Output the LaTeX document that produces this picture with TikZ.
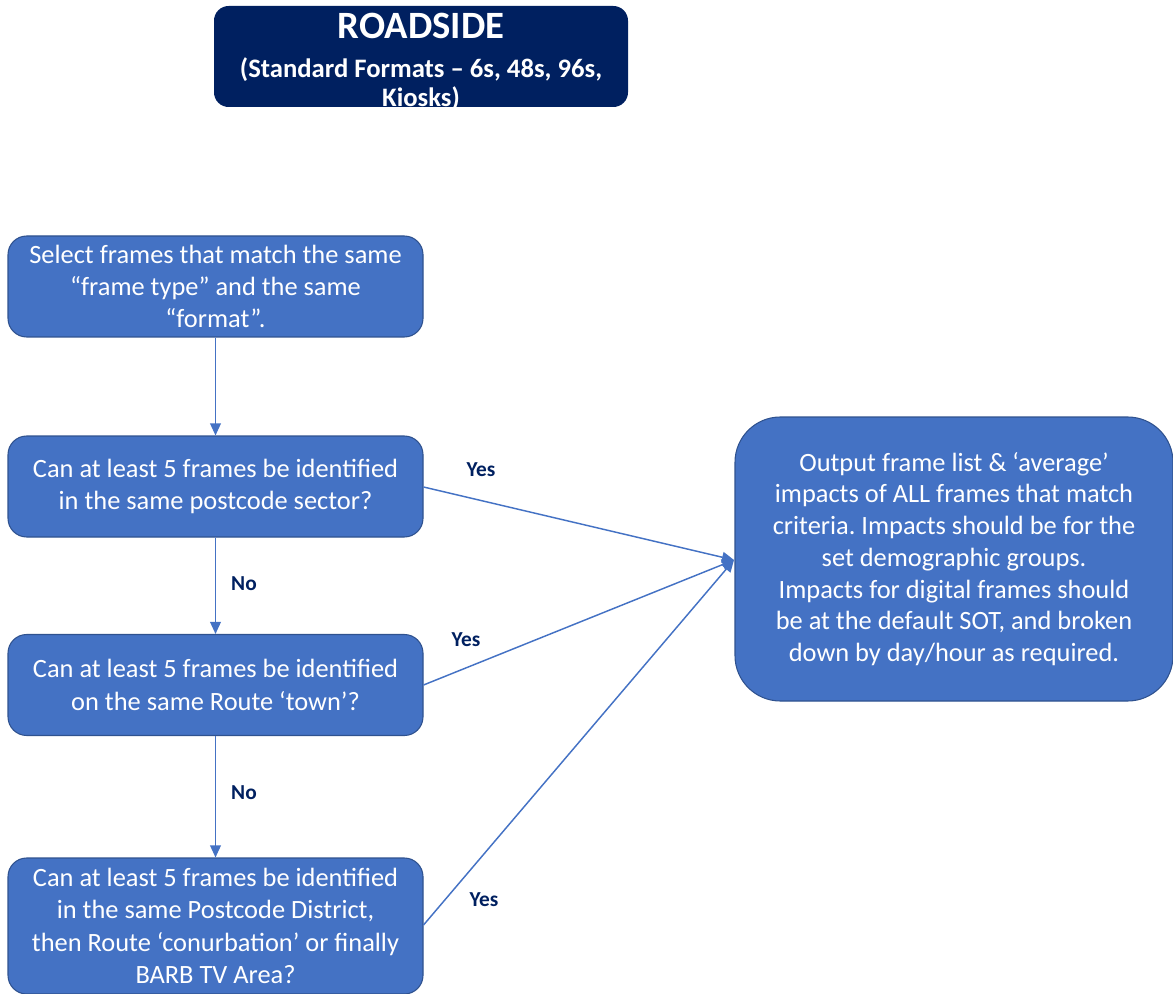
\documentclass[tikz,border=0pt]{standalone}
\usepackage{fontspec}
\setmainfont{Carlito}
\usetikzlibrary{arrows.meta}
\frenchspacing
\definecolor{navy}{HTML}{002060}
\definecolor{boxblue}{HTML}{4472C4}
\definecolor{boxedge}{HTML}{2F528F}
\tikzset{
  stepbox/.style={draw=boxedge, line width=0.8pt, fill=boxblue, rounded corners=14pt, text=white,
    minimum width=415*0.75pt, minimum height=101*0.75pt, align=center, inner sep=0pt,
    font=\fontsize{19.8}{24.2}\selectfont},
  outbox/.style={draw=boxedge, line width=0.8pt, fill=boxblue, rounded corners=34pt, text=white,
    minimum width=438*0.75pt, minimum height=284*0.75pt, align=center, inner sep=0pt,
    font=\fontsize{19.8}{23.8}\selectfont},
  titlebox/.style={fill=navy, rounded corners=11pt, minimum width=414*0.75pt, minimum height=101*0.75pt, inner sep=0pt},
  titletext/.style={text=white, align=center, inner sep=0pt, font=\bfseries\fontsize{20}{22}\selectfont},
  conn/.style={draw=boxblue, line width=1.1pt, -{Triangle[length=9pt,width=8pt]}},
  lbl/.style={text=navy, font=\bfseries\fontsize{16}{18}\selectfont, inner sep=0pt}
}
\begin{document}
\begin{tikzpicture}[x=0.75pt,y=-0.75pt]
\useasboundingbox (0,0) rectangle (1173,994);
\node[titlebox] (title) at (421,56.5) {};
\node[titletext] (titlet) at (421,62) {{\fontsize{29}{30}\selectfont ROADSIDE}\\[7pt] (Standard Formats – 6s, 48s, 96s,\\ Kiosks)};
\node[stepbox] (b1) at (215.5,286.5) {Select frames that match the same\\ “frame type” and the same\\ “format”.};
\node[stepbox] (b2) at (215.5,486.5) {Can at least 5 frames be identified\\ in the same postcode sector?};
\node[stepbox] (b3) at (215.5,685) {Can at least 5 frames be identified\\ on the same Route ‘town’?};
\node[stepbox, minimum height=136*0.75pt] (b4) at (215.5,926) {Can at least 5 frames be identified\\ in the same Postcode District,\\ then Route ‘conurbation’ or finally\\ BARB TV Area?};
\node[outbox] (out) at (954,559) {Output frame list \& ‘average’\\ impacts of ALL frames that match\\ criteria. Impacts should be for the\\ set demographic groups.\\ Impacts for digital frames should\\ be at the default SOT, and broken\\ down by day/hour as required.};
\coordinate (tip) at (734,560);
\draw[conn] (b1.south) -- (b2.north);
\draw[conn] (b2.south) -- (b3.north);
\draw[conn] (b3.south) -- (b4.north);
\draw[conn] (b2.east |- 0,487) -- (tip);
\draw[conn] (b3.east |- 0,685) -- (tip);
\draw[conn] (b4.east |- 0,925) -- (tip);
\node[lbl] (no1) at (244,584) {No};
\node[lbl] (no2) at (244,793) {No};
\node[lbl] (y1) at (481,470) {Yes};
\node[lbl] (y2) at (466,640) {Yes};
\node[lbl] (y3) at (484,900) {Yes};
\end{tikzpicture}
\end{document}
